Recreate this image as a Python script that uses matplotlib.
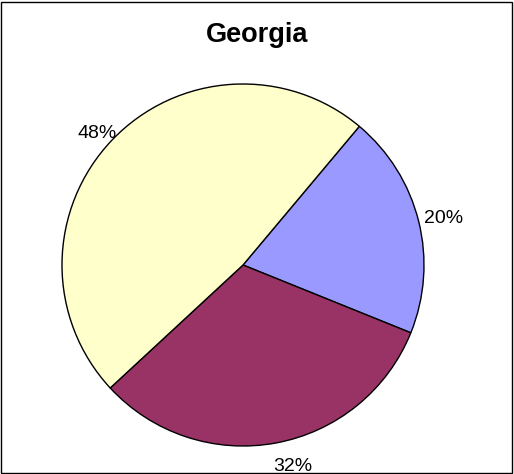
import matplotlib.pyplot as plt
from matplotlib.patches import Rectangle

plt.rcParams['font.family'] = ['Liberation Sans', 'DejaVu Sans']

labels = ['Blue', 'Maroon', 'Yellow']
shares = [20, 32, 48]
colors = ['#9999FF', '#993366', '#FFFFCC']

fig = plt.figure(figsize=(5.14, 4.74), dpi=100)

# pie area in pixels: center (243, 265), radius 181
cx, cy, r = 243, 265, 181
ax = fig.add_axes([(cx - r) / 514, (474 - cy - r) / 474, 2 * r / 514, 2 * r / 474])
wedges, texts, autotexts = ax.pie(shares, colors=colors, startangle=50, counterclock=False,
                                  autopct='%1.0f%%', pctdistance=1.13,
                                  wedgeprops=dict(edgecolor='black', linewidth=1),
                                  textprops=dict(fontsize=14, color='black'))
# nudge labels to where excel puts them
nudges = [(0.011, -0.017), (0.072, 0.0), (0.011, -0.055)]
for t, (dx, dy) in zip(autotexts, nudges):
    x, y = t.get_position()
    t.set_position((x + dx, y + dy))
ax.set_xlim(-1, 1)
ax.set_ylim(-1, 1)
ax.axis('off')

fig.text(257 / 514, 1 - 35 / 474, 'Georgia', ha='center', va='center',
         fontsize=19.5, fontweight='bold')

fig.patches.append(Rectangle((1 / 514, 1.5 / 474), 511 / 514, 471 / 474,
                             transform=fig.transFigure, fill=False,
                             edgecolor='black', linewidth=1))

fig.savefig('out.png', dpi=100)
